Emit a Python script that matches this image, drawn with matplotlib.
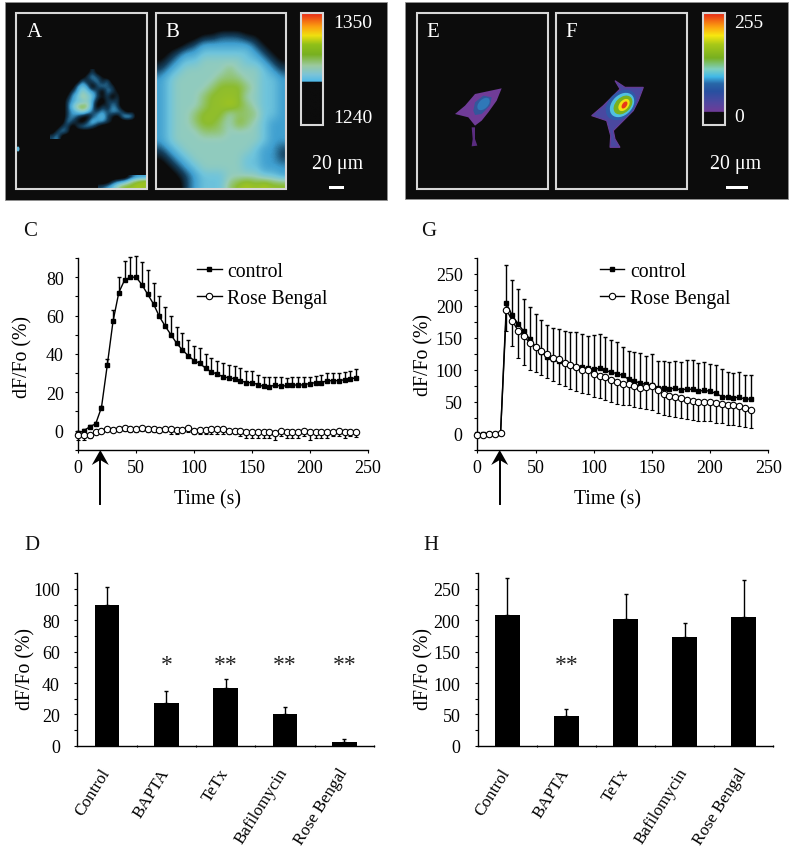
import matplotlib
matplotlib.use('Agg')
import matplotlib.pyplot as plt
import numpy as np
from matplotlib.colors import LinearSegmentedColormap
from matplotlib.patches import Ellipse, Polygon, Rectangle

plt.rcParams['font.family'] = ['Liberation Serif', 'DejaVu Serif']
plt.rcParams['axes.linewidth'] = 1.0

W, H = 795, 853
TICK_SIZE = 13
LABEL_SIZE = 14.2

# time courses, panel C
time_c = list(range(0, 245, 5))
control_c = [-1.5, 0, 2, 3.5, 12, 34, 57, 72, 78.5, 80, 80, 76, 71, 66, 59.5, 54.5, 50, 45.5, 42, 39, 36.5, 35, 32.5,
             30.5, 29.5, 28, 27.5, 27, 26, 25, 25, 24, 23, 22.5, 24, 23, 23.5, 24, 23.5, 24, 24.5, 25, 25, 26, 26, 26,
             26.5, 27, 27.5]
control_c_top = [0, 1, 3, 4.5, 13, 37.5, 63, 80, 88.5, 90.5, 91, 88, 83.5, 77, 70, 64.5, 59.5, 54, 51, 47, 44, 43, 40,
                 38, 36.5, 35, 34, 33.5, 32.5, 31, 31, 29, 28, 28, 28, 28, 27.5, 28, 28, 28, 28, 28.5, 29, 30, 30, 30,
                 30.5, 31, 32]
rose_c = [-2.5, -2.5, -2.5, -1, 0, 1, 0.5, 1, 1.5, 1, 1, 1.5, 1, 1, 0.5, 1, 1, 0.5, 0.5, 1.5, 0, 0.5, 0.5, 1, 1, 1, 0,
          0, -0.5, -1, -1, -1, -1, -1, -1.5, -0.5, -1, -1, -1, -0.5, -1, -1, -1, -1, -1, -0.5, -1, -1, -1]
rose_c_low = [-5, -5, -4, -2, -1, 0, -1, 0, 0, -1, -1, 0, -1, -1, -1, -1, -2, -2, -1, -1, -2, -2, -2, -2, -2, -2, -2,
              -2, -3, -4, -4, -4, -4, -4, -5, -3, -4, -4, -4, -3, -5, -4, -4, -4, -3, -3, -4, -3, -3.5]

# time courses, panel G
time_g = list(range(0, 240, 5))
control_g = [-1, -1, 0, 0, 1, 204, 185, 172, 160, 148, 136, 128, 120, 116, 113, 110, 108, 105, 104, 102, 101, 102, 99,
             96, 94, 91, 85, 82, 79, 77, 76, 72, 71, 70, 71, 68, 70, 69, 66, 68, 66, 63, 58, 57, 56, 57, 54, 54]
control_g_top = [-1, -1, 0, 0, 1, 264, 240, 226, 210, 199, 188, 178, 170, 165, 163, 161, 159, 159, 156, 153, 154, 156,
                 151, 146, 143, 136, 130, 127, 126, 121, 124, 114, 113, 112, 113, 112, 115, 115, 110, 112, 109, 107,
                 101, 96, 95, 96, 92, 92]
rose_g = [-2, -2, 0, -0.5, 1, 194, 177, 161, 153, 142, 136, 130, 125, 119, 116, 111, 108, 105, 100, 100, 94, 90, 88,
          84, 81, 78, 77, 74, 72, 73, 74, 68, 62, 59, 57, 55, 53, 51, 50, 50, 49, 48, 47, 45, 44, 43, 40, 37]
rose_g_low = [-2, -2, 0, -0.5, 1, 160, 137, 118, 108, 100, 97, 92, 87, 82, 78, 75, 70, 67, 63, 62, 58, 55, 52, 50, 47,
              45, 44, 42, 40, 38, 37, 32, 29, 27, 26, 25, 23, 21, 20, 20, 19, 17, 16, 14, 13, 12, 10, 9]

# bar charts
treatments = ['Control', 'BAPTA', 'TeTx', 'Bafilomycin', 'Rose Bengal']
bars_d = [90, 27, 37, 20, 2.5]
bars_d_top = [101.5, 35, 42.5, 24.5, 4.5]
stars_d = ['', '*', '**', '**', '**']
bars_h = [208, 48, 202, 173, 205]
bars_h_top = [267, 58, 242, 195, 264]
stars_h = ['', '**', '', '', '']

# false colour images: levels 0-9 on a coarse grid
image_a = ['000000002000000000',
           '000000023210000000',
           '000000312313000000',
           '000003430232200000',
           '000023543203210000',
           '000134654212020000',
           '000234453102220000',
           '000246763021320000',
           '000234542232332010',
           '000232102342103430',
           '000321024332100000',
           '002202332100000000',
           '023200000000000000',
           '230000000000000000']
image_a_low = ['00000233',
               '00234678',
               '23467787']
image_b = ['000000000000000',
           '000000000000000',
           '000001122211000',
           '000123333332100',
           '012334444443210',
           '123445555544321',
           '234555556555432',
           '345555566655443',
           '345555677765443',
           '345556777755443',
           '345556778765443',
           '345567775666443',
           '345567765765433',
           '345556665555433',
           '345555555555433',
           '234555555554332',
           '123455555544332',
           '012345555544333',
           '001234445555443',
           '000234446787877']

cell_e = [(165, 345), (195, 320), (225, 285), (305, 268), (290, 305), (265, 340), (245, 365), (225, 380), (205, 355)]
tail_e = [(215, 385), (225, 385), (225, 420), (232, 440), (215, 442), (218, 420)]
core_e = [(220, 335), (225, 310), (250, 290), (275, 295), (270, 320), (245, 345), (225, 348)]
cell_f = [(575, 350), (610, 320), (640, 290), (660, 270), (645, 245), (660, 255), (675, 265), (730, 265), (715, 305),
          (700, 335), (680, 355), (655, 380), (640, 395), (645, 420), (660, 445), (630, 445), (632, 410), (620, 365)]

cmap_ab = LinearSegmentedColormap.from_list('ab', [
  (0, '#0c0c0c'), (0.1, '#0c0c0c'), (0.22, '#14405e'), (0.33, '#3f9fd0'), (0.45, '#6fc4dc'), (0.58, '#98cdb8'),
  (0.75, '#8cbc30'), (0.88, '#a8c818'), (1, '#e8e000')])
cmap_scale_ab = LinearSegmentedColormap.from_list('scale_ab', [
  (0, '#0c0c0c'), (0.385, '#0c0c0c'), (0.386, '#4db8e8'), (0.45, '#7cc4d8'), (0.53, '#9ccaa0'), (0.63, '#78b020'),
  (0.72, '#90c018'), (0.8, '#f0e010'), (0.88, '#fca010'), (1, '#e82818')])
cmap_scale_ef = LinearSegmentedColormap.from_list('scale_ef', [
  (0, '#0c0c0c'), (0.115, '#0c0c0c'), (0.116, '#703c98'), (0.2, '#5048a0'), (0.3, '#2850a0'), (0.37, '#2868a8'),
  (0.43, '#40b8e8'), (0.5, '#80d0c0'), (0.6, '#78b020'), (0.72, '#a8c818'), (0.8, '#f8e810'), (0.88, '#fca010'),
  (1, '#e82818')])


def levels(rows):
  return np.array([[int(c) for c in row] for row in rows]) / 9


def page_axes(left, top, right, bottom):
  return fig.add_axes([left / W, 1 - bottom / H, (right - left) / W, (bottom - top) / H])


def show_image(rows, left, top, right, bottom):
  ov.imshow(levels(rows), cmap=cmap_ab, vmin=0, vmax=1, extent=(left, right, bottom, top), aspect='auto',
            interpolation='bicubic', interpolation_stage='data', zorder=2)


def scale_bar(cmap, left, right):
  ramp = np.linspace(1, 0, 256).reshape(-1, 1)
  ov.imshow(ramp, cmap=cmap, extent=(left, right, 126, 14), aspect='auto', zorder=2)
  ov.add_patch(Rectangle((left, 14), right - left, 112, fill=False, ec='#d8d8d8', lw=1.5, zorder=3))


def frame(left, right):
  ov.add_patch(Rectangle((left, 14), right - left, 176, fill=False, ec='#d8d8d8', lw=1.5, zorder=3))


def zoom_xy(points):
  # outlines were measured on a 3x crop of the right hand image block
  return [(400 + x / 3, y / 3) for x, y in points]


def up_arrow(x):
  ov.plot([x, x], [460, 505], color='k', lw=1.4, zorder=6)
  ov.add_patch(Polygon([(x, 451), (x + 8.5, 466), (x, 461), (x - 8.5, 466)], closed=True, fc='k', ec='none', zorder=6))


def unclip(container):
  for part in container.get_children():
    part.set_clip_on(False)


def time_panel(box, t, control, control_top, rose, rose_low, ylim, major, minor, ylabels, legend_anchor):
  ax = page_axes(*box)
  t = np.array(t)
  control = np.array(control)
  rose = np.array(rose)
  up = np.array(control_top) - control
  down = rose - np.array(rose_low)
  line_c = ax.errorbar(t, control, yerr=[np.zeros(len(t)), up], color='k', lw=1, elinewidth=1, capsize=1.6, marker='s',
                       ms=3.4, label='control', zorder=3)
  line_r = ax.errorbar(t, rose, yerr=[down, np.zeros(len(t))], color='k', lw=1, elinewidth=1, capsize=1.6, marker='o',
                       ms=4.6, mfc='white', mec='k', mew=0.8, label='Rose Bengal', zorder=4)
  unclip(line_c)
  unclip(line_r)
  ax.set_xlim(0, 250)
  ax.set_ylim(*ylim)
  ax.set_xticks(range(0, 300, 50))
  ax.set_yticks(major)
  ax.set_yticklabels(ylabels)
  ax.set_yticks(minor, minor=True)
  ax.tick_params(axis='both', which='both', labelsize=TICK_SIZE, length=2.5, width=0.8)
  ax.tick_params(axis='y', which='both', pad=8)
  ax.tick_params(axis='x', which='both', pad=4)
  ax.spines[['top', 'right']].set_visible(False)
  handles, labels = ax.get_legend_handles_labels()
  handles = [h[0] for h in handles]
  ax.legend(handles, labels, frameon=False, fontsize=LABEL_SIZE, loc='upper left', bbox_to_anchor=legend_anchor,
            borderpad=0, borderaxespad=0, handlelength=1.26, handletextpad=0.28, labelspacing=0.42)
  return ax


def bar_panel(box, values, tops, stars, ylim, major, minor, star_y):
  ax = page_axes(*box)
  x = np.arange(len(values))
  values = np.array(values, dtype=float)
  ax.bar(x, values, width=0.42, color='k', zorder=2)
  ax.errorbar(x, values, yerr=[np.zeros(len(x)), np.array(tops) - values], fmt='none', ecolor='k', elinewidth=1,
              capsize=1.6, zorder=1)
  for i, s in enumerate(stars):
    if s:
      ax.text(x[i], star_y, s, ha='center', va='center', fontsize=17, color='#222222')
  ax.set_xlim(-0.5, len(values) - 0.5)
  ax.set_ylim(*ylim)
  ax.set_yticks(major)
  ax.set_yticks(minor, minor=True)
  ax.set_xticks(x + 0.5, minor=True)
  ax.set_xticks(x - 0.12)
  ax.set_xticklabels(treatments, rotation=58, ha='right', va='top', rotation_mode='anchor', fontsize=12.3)
  ax.tick_params(axis='x', which='major', length=0, pad=14)
  ax.tick_params(axis='x', which='minor', length=2, width=0.8, direction='inout')
  ax.tick_params(axis='y', which='both', labelsize=TICK_SIZE, length=2.5, width=0.8, pad=10)
  ax.spines[['top', 'right']].set_visible(False)
  return ax


fig = plt.figure(figsize=(W / 100, H / 100), dpi=100, facecolor='white')

# page overlay in pixel coordinates, holds the micrographs and loose labels
ov = fig.add_axes([0, 0, 1, 1], zorder=5)
ov.patch.set_alpha(0)

ov.add_patch(Rectangle((5, 3), 382, 198, fc='#0c0c0c', ec='#909090', lw=0.6, zorder=1))
ov.add_patch(Rectangle((405, 3), 383, 197, fc='#0c0c0c', ec='#909090', lw=0.6, zorder=1))

show_image(image_a, 50, 70, 140, 140)
show_image(image_a_low, 98, 176, 147, 190)
show_image(image_b, 156, 14, 286, 190)
ov.add_patch(Ellipse((18, 150), 3, 5, fc='#5ab4d8', ec='none', zorder=2))

ov.add_patch(Polygon(zoom_xy(cell_e), closed=True, fc='#703c98', ec='none', zorder=2))
ov.add_patch(Polygon(zoom_xy(tail_e), closed=True, fc='#5a2c80', ec='none', zorder=2))
ov.add_patch(Polygon(zoom_xy(core_e), closed=True, fc='#34569c', ec='none', zorder=2))
ov.add_patch(Ellipse((483.5, 105), 15, 9, angle=-45, fc='#2f78b8', ec='none', zorder=2))
ov.add_patch(Polygon(zoom_xy(cell_f), closed=True, fc='#4a48a0', ec='#6a3c98', lw=0.8, zorder=2))
ov.add_patch(Ellipse((621, 106), 35, 25, angle=-45, fc='#2f5aa8', ec='none', zorder=2))
ov.add_patch(Ellipse((622, 106), 28, 20, angle=-45, fc='#50c0e0', ec='none', zorder=2))
ov.add_patch(Ellipse((623, 106), 22, 15, angle=-45, fc='#78b020', ec='none', zorder=2))
ov.add_patch(Ellipse((624, 106), 14, 9, angle=-50, fc='#f0e010', ec='none', zorder=2))
ov.add_patch(Ellipse((624.5, 106), 8, 4.5, angle=-55, fc='#e83818', ec='none', zorder=2))

for left, right in [(16, 147), (155.5, 286), (416.5, 547.5), (556, 687)]:
  frame(left, right)
scale_bar(cmap_scale_ab, 301, 323)
scale_bar(cmap_scale_ef, 703, 725)
ov.add_patch(Rectangle((329, 187), 15, 3, fc='white', ec='none', zorder=3))
ov.add_patch(Rectangle((726, 187), 22, 3, fc='white', ec='none', zorder=3))

white_text = [(26.5, 32, 'A'), (165, 32, 'B'), (426, 32, 'E'), (565.5, 32, 'F')]
for x, y, s in white_text:
  ov.text(x, y, s, color='white', fontsize=15, va='center', zorder=4)
values_text = [(333, 23, '1350'), (333, 118, '1240'), (734, 23, '255'), (734, 117, '0')]
for x, y, s in values_text:
  ov.text(x, y, s, color='white', fontsize=14, va='center', zorder=4)
ov.text(338, 164, '20 μm', color='white', fontsize=14.3, ha='center', va='center', zorder=4)
ov.text(736, 164, '20 μm', color='white', fontsize=14.3, ha='center', va='center', zorder=4)

panel_text = [(30, 231, 'C'), (429, 231, 'G'), (32, 546, 'D'), (431, 546, 'H')]
for x, y, s in panel_text:
  ov.text(x, y, s, fontsize=15, ha='center', va='center', color='#111111')
ov.text(207, 500, 'Time (s)', fontsize=LABEL_SIZE, ha='center', va='center')
ov.text(607, 500, 'Time (s)', fontsize=LABEL_SIZE, ha='center', va='center')
ylabel_pos = [(23, 357), (424, 355), (26, 669), (424, 669)]
for x, y in ylabel_pos:
  ov.text(x, y, 'dF/Fo (%)', fontsize=LABEL_SIZE, rotation=90, ha='center', va='center')

up_arrow(100.3)
up_arrow(499.7)

ov.set_xlim(0, W)
ov.set_ylim(H, 0)
ov.axis('off')

time_panel((78.3, 259, 367.7, 450.7), time_c, control_c, control_c_top, rose_c, rose_c_low, (-10, 90),
           [0, 20, 40, 60, 80], list(range(-10, 100, 10)), ['0', '20', '40', '60', '80'], (0.41, 0.98))
time_panel((477.3, 259, 768.3, 450.5), time_g, control_g, control_g_top, rose_g, rose_g_low, (-25, 275),
           [0, 50, 100, 150, 200, 250], list(range(-25, 300, 25)), ['0', '50', '100', '150', '200', '250'],
           (0.42, 0.98))

bar_panel((77.3, 574.3, 374, 746.7), bars_d, bars_d_top, stars_d, (0, 110), [0, 20, 40, 60, 80, 100],
          list(range(0, 120, 10)), 52)
bar_panel((477.7, 574.3, 773.3, 746.7), bars_h, bars_h_top, stars_h, (0, 275), [0, 50, 100, 150, 200, 250],
          list(range(0, 300, 25)), 130)

fig.savefig('out.png', dpi=100)
